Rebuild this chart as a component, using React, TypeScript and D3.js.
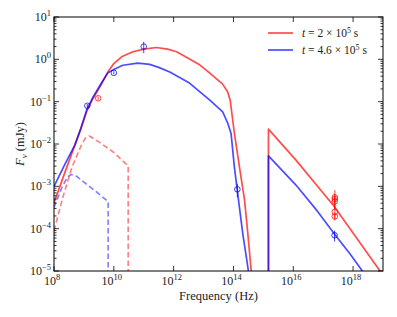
import React from 'react';
import * as d3 from 'd3';

// curves, stored as [log10 frequency (Hz), log10 flux (mJy)]
const redTotal: [number, number][] = [
  [8.0, -3.39], [8.35, -2.7], [8.7, -2.02], [8.9, -1.63], [9.1, -1.22], [9.3, -0.93],
  [9.55, -0.63], [9.8, -0.3], [10.0, -0.1], [10.26, 0.06], [10.64, 0.18], [11.0, 0.24],
  [11.42, 0.28], [11.8, 0.24], [12.1, 0.18], [12.5, 0.02], [12.87, -0.13], [13.2, -0.32],
  [13.63, -0.58], [13.8, -0.76], [13.89, -0.96], [14.03, -1.74], [14.2, -2.54],
  [14.37, -3.32], [14.48, -4.11], [14.56, -4.74], [14.62, -5.2],
];
const blueTotal: [number, number][] = [
  [8.0, -3.0], [8.35, -2.5], [8.7, -2.02], [8.9, -1.63], [9.1, -1.18], [9.3, -0.9],
  [9.55, -0.6], [9.8, -0.32], [10.0, -0.24], [10.3, -0.14], [10.8, -0.09], [11.2, -0.12],
  [11.5, -0.19], [11.87, -0.3], [12.53, -0.56], [13.2, -0.96], [13.64, -1.24],
  [13.81, -1.51], [13.92, -1.75], [14.03, -2.54], [14.14, -3.16], [14.31, -4.11],
  [14.48, -4.9], [14.53, -5.2],
];
const redXray: [number, number][] = [
  [15.17, -5.2], [15.17, -1.65], [16.09, -2.38], [17.35, -3.46], [18.1, -4.2], [18.9, -5.0], [19.0, -5.1],
];
const blueXray: [number, number][] = [
  [15.17, -5.2], [15.17, -2.28], [16.09, -2.97], [16.8, -3.58], [17.37, -4.12], [17.9, -4.6], [18.31, -5.0], [18.4, -5.1],
];
const redReverse: [number, number][] = [
  [8.0, -4.05], [8.3, -3.25], [8.6, -2.55], [8.9, -2.05], [9.05, -1.86], [9.18, -1.81],
  [9.5, -1.95], [10.0, -2.2], [10.48, -2.52], [10.48, -5.2],
];
const blueReverse: [number, number][] = [
  [8.0, -3.5], [8.25, -3.05], [8.45, -2.78], [8.58, -2.72], [8.75, -2.76], [9.0, -2.9],
  [9.4, -3.12], [9.81, -3.36], [9.81, -5.2],
];

// observations: [frequency, flux, error] in Hz and mJy
const blueObs: [number, number, number][] = [
  [1.3e9, 0.08, 0.008], [1.0e10, 0.48, 0.04], [1.0e11, 2.0, 0.6],
  [1.35e14, 8.5e-4, 3e-4], [2.4e17, 7.0e-5, 2e-5],
];
const redObs: [number, number, number][] = [
  [3.0e9, 0.12, 0.01], [2.45e17, 5.5e-4, 2.6e-4], [2.45e17, 5.0e-4, 1.5e-4],
  [2.45e17, 4.4e-4, 1.2e-4], [2.45e17, 2.5e-4, 0.8e-4], [2.45e17, 1.95e-4, 0.4e-4],
];

const xTickExps = [8, 10, 12, 14, 16, 18];
const yTickExps = [-5, -4, -3, -2, -1, 0, 1];
const legendLabels = ['2', '4.6'];

const W = 397, H = 317;
const left = 54, right = 383, top = 17, bottom = 271;
const font = 'Liberation Serif';

export default function App() {
  const x = d3.scaleLog().domain([1e8, 1e19]).range([left, right]);
  const y = d3.scaleLog().domain([1e-5, 1e1]).range([bottom, top]);

  const line = d3.line<[number, number]>()
    .x(d => x(10 ** d[0]))
    .y(d => y(10 ** d[1]));

  const minor: number[] = [];
  for (let e = -5; e < 1; e++) for (let k = 2; k < 10; k++) minor.push(k * 10 ** e);

  const red = 'rgb(255,0,0)', blue = 'rgb(0,0,255)';

  const obs = (pts: [number, number, number][], c: string) =>
    pts.map((p, i) => (
      <g key={i} stroke={c} strokeOpacity={0.75} fill="none" strokeWidth={1}>
        <line x1={x(p[0])} x2={x(p[0])} y1={y(p[1] + p[2])} y2={y(Math.max(p[1] - p[2], 1e-6))} />
        <circle cx={x(p[0])} cy={y(p[1])} r={2.8} />
      </g>
    ));

  const sup = (e: number) => (e < 0 ? '\u2212' + -e : String(e));

  return (
    <svg width={W} height={H} style={{ position: 'absolute', left: 0, top: 0 }} fontFamily={font}>
      <rect width={W} height={H} fill="#fff" />
      <defs>
        <clipPath id="plot">
          <rect x={left} y={top} width={right - left} height={bottom - top} />
        </clipPath>
      </defs>
      <g clipPath="url(#plot)" fill="none" strokeLinejoin="round">
        <path d={line(redReverse)!} stroke={red} strokeOpacity={0.5} strokeWidth={1.6} strokeDasharray="5.5,3" />
        <path d={line(blueReverse)!} stroke={blue} strokeOpacity={0.5} strokeWidth={1.6} strokeDasharray="5.5,3" />
        <path d={line(redTotal)!} stroke={red} strokeOpacity={0.7} strokeWidth={1.7} />
        <path d={line(redXray)!} stroke={red} strokeOpacity={0.7} strokeWidth={1.7} />
        <path d={line(blueTotal)!} stroke={blue} strokeOpacity={0.7} strokeWidth={1.7} />
        <path d={line(blueXray)!} stroke={blue} strokeOpacity={0.7} strokeWidth={1.7} />
        {obs(redObs, red)}
        {obs(blueObs, blue)}
      </g>

      {/* frame and ticks */}
      <rect x={left} y={top} width={right - left} height={bottom - top} fill="none" stroke="#000" strokeWidth={1} />
      <g stroke="#000" strokeWidth={0.8}>
        {xTickExps.map(e => (
          <g key={e}>
            <line x1={x(10 ** e)} x2={x(10 ** e)} y1={bottom} y2={bottom - 5} />
            <line x1={x(10 ** e)} x2={x(10 ** e)} y1={top} y2={top + 5} />
          </g>
        ))}
        {yTickExps.map(e => (
          <g key={e}>
            <line x1={left} x2={left + 5} y1={y(10 ** e)} y2={y(10 ** e)} />
            <line x1={right} x2={right - 5} y1={y(10 ** e)} y2={y(10 ** e)} />
          </g>
        ))}
        {minor.map((v, i) => (
          <g key={i}>
            <line x1={left} x2={left + 2.5} y1={y(v)} y2={y(v)} />
            <line x1={right} x2={right - 2.5} y1={y(v)} y2={y(v)} />
          </g>
        ))}
      </g>

      {/* tick labels */}
      <g fontSize={12} fill="#222">
        {xTickExps.map(e => (
          <text key={e} x={x(10 ** e) - 2} y={bottom + 14} textAnchor="middle">
            10<tspan dy={-5} fontSize={8.5}>{sup(e)}</tspan>
          </text>
        ))}
        {yTickExps.map(e => (
          <text key={e} x={left - 3} y={y(10 ** e) + 4} textAnchor="end">
            10<tspan dy={-5} fontSize={8.5}>{sup(e)}</tspan>
          </text>
        ))}
      </g>

      <text x={(left + right) / 2} y={300} textAnchor="middle" fontSize={12.5} fill="#222">Frequency (Hz)</text>
      <text transform={`translate(24,${(top + bottom) / 2}) rotate(-90)`} textAnchor="middle" fontSize={12.5} fill="#222">
        <tspan fontStyle="italic">F</tspan><tspan dy={3} fontSize={9} fontStyle="italic">ν</tspan><tspan dy={-3}> (mJy)</tspan>
      </text>

      {/* legend */}
      {legendLabels.map((lab, i) => (
        <g key={lab}>
          <line x1={268} x2={293} y1={33 + i * 17} y2={33 + i * 17} stroke={i === 0 ? red : blue} strokeOpacity={0.7} strokeWidth={1.7} />
          <text x={302} y={37 + i * 17} fontSize={11.5} fill="#222">
            <tspan fontStyle="italic">t</tspan> = {lab} × 10<tspan dy={-4} fontSize={8}>5</tspan><tspan dy={4}> s</tspan>
          </text>
        </g>
      ))}
    </svg>
  );
}
